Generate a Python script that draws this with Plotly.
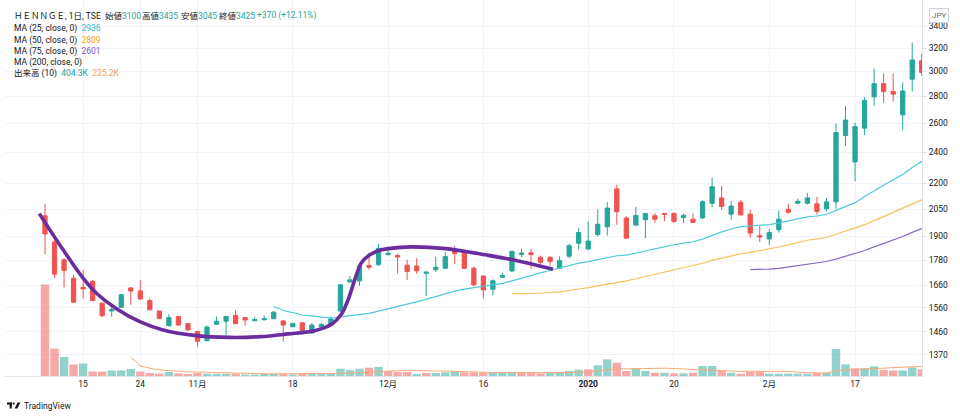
import math
import pandas as pd
import plotly.graph_objects as go

# ---------------- data ----------------
dates = [
    "2019-10-08", "2019-10-09", "2019-10-10", "2019-10-11", "2019-10-15", "2019-10-16", "2019-10-17", "2019-10-18",
    "2019-10-21", "2019-10-23", "2019-10-24", "2019-10-25", "2019-10-28", "2019-10-29", "2019-10-30", "2019-10-31",
    "2019-11-01", "2019-11-05", "2019-11-06", "2019-11-07", "2019-11-08", "2019-11-11", "2019-11-12", "2019-11-13",
    "2019-11-14", "2019-11-15", "2019-11-18", "2019-11-19", "2019-11-20", "2019-11-21", "2019-11-22", "2019-11-25",
    "2019-11-26", "2019-11-27", "2019-11-28", "2019-11-29",
    "2019-12-02", "2019-12-03", "2019-12-04", "2019-12-05", "2019-12-06", "2019-12-09", "2019-12-10", "2019-12-11",
    "2019-12-12", "2019-12-13", "2019-12-16", "2019-12-17", "2019-12-18", "2019-12-19", "2019-12-20", "2019-12-23",
    "2019-12-24", "2019-12-25", "2019-12-26", "2019-12-27", "2019-12-30",
    "2020-01-06", "2020-01-07", "2020-01-08", "2020-01-09", "2020-01-10", "2020-01-14", "2020-01-15", "2020-01-16",
    "2020-01-17", "2020-01-20", "2020-01-21", "2020-01-22", "2020-01-23", "2020-01-24", "2020-01-27", "2020-01-28",
    "2020-01-29", "2020-01-30", "2020-01-31",
    "2020-02-03", "2020-02-04", "2020-02-05", "2020-02-06", "2020-02-07", "2020-02-10", "2020-02-12", "2020-02-13",
    "2020-02-14", "2020-02-17", "2020-02-18", "2020-02-19", "2020-02-20", "2020-02-21", "2020-02-25", "2020-02-26",
    "2020-02-27",
]

opens = [2012, 1871, 1781, 1693, 1651, 1678, 1580, 1546, 1562, 1648, 1634, 1591, 1546, 1484, 1523, 1493,
         1460, 1424, 1490, 1503, 1527, 1518, 1505, 1509, 1513, 1504, 1480, 1496, 1455, 1480, 1485, 1546,
         1675, 1680, 1753, 1757,
         1807, 1803, 1755, 1751, 1716, 1733, 1740, 1828, 1816, 1740, 1703, 1642, 1697, 1727, 1807, 1816,
         1794, 1794, 1740, 1799, 1865,
         1835, 1910, 1952, 2167, 2000, 1961, 1990, 2012, 2025, 2025, 2002, 1993, 2000, 2082, 2114, 2021,
         2089, 2021, 1904,
         1887, 1936, 2048, 2083, 2083, 2080, 2051, 2091, 2512, 2335, 2564, 2796, 2900, 2837, 2660, 2936,
         3089]
highs = [2080, 1880, 1789, 1709, 1733, 1685, 1583, 1579, 1620, 1652, 1685, 1600, 1547, 1532, 1525, 1496,
         1463, 1485, 1523, 1525, 1549, 1518, 1520, 1527, 1546, 1508, 1496, 1500, 1496, 1496, 1522, 1665,
         1703, 1757, 1816, 1862,
         1848, 1812, 1781, 1789, 1722, 1797, 1820, 1851, 1830, 1749, 1705, 1687, 1718, 1828, 1838, 1835,
         1802, 1796, 1799, 1862, 1945,
         1982, 2048, 2089, 2192, 2009, 2061, 2025, 2027, 2025, 2031, 2025, 2025, 2101, 2236, 2185, 2097,
         2101, 2046, 1958,
         1939, 2041, 2080, 2110, 2142, 2120, 2114, 2596, 2726, 2603, 2794, 3023, 2983, 2983, 2910, 3248,
         3150]
lows = [1809, 1693, 1650, 1582, 1601, 1589, 1520, 1522, 1560, 1573, 1596, 1550, 1513, 1482, 1484, 1464,
        1400, 1422, 1490, 1444, 1490, 1485, 1503, 1506, 1512, 1420, 1479, 1464, 1452, 1465, 1480, 1542,
        1673, 1657, 1733, 1752,
        1803, 1714, 1685, 1714, 1611, 1722, 1737, 1761, 1737, 1654, 1601, 1614, 1694, 1722, 1795, 1737,
        1757, 1752, 1737, 1790, 1831,
        1831, 1900, 1905, 1963, 1887, 1954, 1891, 1972, 1981, 1972, 1972, 1972, 1993, 2061, 2046, 1990,
        2014, 1891, 1870,
        1856, 1921, 2025, 2077, 2075, 2018, 2036, 2052, 2442, 2214, 2515, 2726, 2751, 2758, 2553, 2837,
        2960]
closes = [1913, 1712, 1730, 1584, 1643, 1591, 1526, 1553, 1617, 1634, 1598, 1551, 1514, 1518, 1487, 1467,
          1422, 1479, 1503, 1523, 1493, 1508, 1510, 1513, 1541, 1487, 1493, 1465, 1487, 1489, 1513, 1662,
          1685, 1749, 1745, 1838,
          1814, 1795, 1725, 1728, 1722, 1745, 1797, 1812, 1740, 1662, 1639, 1681, 1706, 1823, 1815, 1807,
          1769, 1773, 1777, 1852, 1921,
          1876, 1965, 2055, 2034, 1891, 2013, 2025, 1993, 2020, 1981, 2014, 1976, 2092, 2180, 2065, 2067,
          2017, 1918, 1898,
          1921, 1993, 2031, 2094, 2114, 2036, 2091, 2533, 2622, 2575, 2769, 2900, 2837, 2817, 2842, 3096,
          2991]
volumes_k = [4575, 1375, 950, 575, 625, 225, 225, 275, 275, 350, 225, 150, 125, 200, 135, 100,
             150, 115, 115, 115, 115, 75, 75, 115, 115, 115, 75, 115, 100, 100, 100, 365,
             285, 365, 415, 450,
             235, 200, 200, 100, 150, 150, 185, 235, 185, 185, 165, 165, 165, 200, 165, 150,
             125, 150, 150, 250, 315,
             335, 535, 835, 665, 250, 385, 250, 165, 165, 135, 135, 165, 500, 500, 250, 165,
             115, 215, 215,
             115, 115, 115, 115, 115, 165, 165, 1350, 585, 385, 390, 475, 300, 275, 275, 425,
             335]

tick_dates = ["2019-10-15", "2019-10-24", "2019-11-01", "2019-11-18", "2019-12-02",
              "2019-12-16", "2020-01-06", "2020-01-20", "2020-02-03", "2020-02-17"]
tick_labels = ["15", "24", "11月", "18", "12月", "16", "<b>2020</b>", "20", "2月", "17"]
price_ticks = [1370, 1460, 1560, 1660, 1780, 1900, 2050, 2200, 2400, 2600, 2800, 3000, 3200, 3400]

# hand-drawn purple trend curve (position in trading days, price)
curve_pos = [-0.6, 1.9, 4.0, 5.4, 7.5, 10.0, 12.4, 15.9, 19.4, 22.6, 25.5, 28.3, 30.1, 31.1,
             31.8, 32.5, 33.2, 34.1, 35.3, 37.8, 39.5, 42.3, 46.2, 49.1, 53.3]
curve_price = [2024, 1831, 1693, 1624, 1556, 1500, 1467, 1444, 1437, 1440, 1451, 1464, 1491, 1532,
               1594, 1685, 1767, 1806, 1831, 1845, 1845, 1836, 1806, 1781, 1735]

legend_name = "ＨＥＮＮＧＥ, 1日, TSE"
legend_ohlc = [("始値", "3100"), ("高値", "3435"), ("安値", "3045"), ("終値", "3425")]
legend_change = "+370 (+12.11%)"
ma_lines = [("MA (25, close, 0)", "2936"), ("MA (50, close, 0)", "2809"),
            ("MA (75, close, 0)", "2601"), ("MA (200, close, 0)", "")]
vol_label = ("出来高 (10)", "404.3K", "225.2K")

# ---------------- styling ----------------
UP = "#26a69a"
DOWN = "#ef5350"
VOL_UP = "rgba(38,166,154,0.5)"
VOL_DOWN = "rgba(239,83,80,0.5)"
MA25_C = "#4fc9dc"
MA50_C = "#f7c15a"
MA75_C = "#8a68c9"
MA25_T = "#26bcd4"
MA50_T = "#f5a623"
MA75_T = "#7e57c2"
VMA_C = "#f8a978"
TXT = "#131722"
GRID = "#f0f3fa"
FONT = "Roboto, 'Noto Sans CJK JP', sans-serif"

W, H = 960, 418
ML, MR, MT, MB = 5, 38, 0, 42
PW, PH = W - ML - MR, H - MT - MB


def px(x, y):
    return (x - ML) / PW, 1 - (y - MT) / PH


pos = list(range(len(dates)))
cs = pd.Series(closes, dtype=float)
ma25 = cs.rolling(25).mean()
ma50 = cs.rolling(50).mean()
ma75 = cs.rolling(75).mean()
vma10 = pd.Series(volumes_k, dtype=float).rolling(10).mean()

vol_colors = []
for i in pos:
    ref = opens[0] if i == 0 else closes[i - 1]
    vol_colors.append(VOL_DOWN if closes[i] < ref else VOL_UP)

fig = go.Figure()

# volume (primary, hidden axis)
fig.add_trace(go.Bar(x=pos, y=volumes_k, marker=dict(color=vol_colors, line=dict(width=0)),
                     yaxis="y", hoverinfo="skip"))
fig.add_trace(go.Scatter(x=pos, y=vma10, mode="lines", line=dict(color=VMA_C, width=1),
                         yaxis="y", hoverinfo="skip"))

# price (overlay, log)
fig.add_trace(go.Candlestick(
    x=pos, open=opens, high=highs, low=lows, close=closes, yaxis="y2",
    increasing=dict(line=dict(color=UP, width=1), fillcolor=UP),
    decreasing=dict(line=dict(color=DOWN, width=1), fillcolor=DOWN),
    whiskerwidth=0, hoverinfo="skip"))
for s, c in ((ma25, MA25_C), (ma50, MA50_C), (ma75, MA75_C)):
    fig.add_trace(go.Scatter(x=pos, y=s, mode="lines", line=dict(color=c, width=1.2),
                             yaxis="y2", hoverinfo="skip"))
fig.add_trace(go.Scatter(x=curve_pos, y=curve_price, mode="lines",
                         line=dict(color="#6a2c9e", width=3.6, shape="spline", smoothing=0.9),
                         yaxis="y2", hoverinfo="skip"))

# axes ranges: x in trading-day units
x0 = (ML - 45) / 9.53
x1 = (ML + PW - 45) / 9.53
ytop, ybot = 3655, 1291.5

tickvals = [dates.index(d) for d in tick_dates]

fig.update_layout(
    width=W, height=H, margin=dict(l=ML, r=MR, t=MT, b=MB, pad=0),
    paper_bgcolor="white", plot_bgcolor="white", showlegend=False,
    font=dict(family=FONT, color=TXT, size=9),
    bargap=0.12, boxgap=0.36,
    xaxis=dict(range=[x0, x1], tickvals=tickvals, ticktext=tick_labels, showgrid=True,
               gridcolor=GRID, gridwidth=1, zeroline=False, showline=True, linecolor="#e0e3eb",
               ticks="", tickfont=dict(size=8.5, color=TXT), rangeslider=dict(visible=False),
               fixedrange=True),
    yaxis=dict(range=[0, PH * 50], visible=False, showgrid=False, zeroline=False, fixedrange=True),
    yaxis2=dict(overlaying="y", side="right", type="log",
                range=[math.log10(ybot), math.log10(ytop)],
                tickvals=price_ticks, ticktext=[str(v) for v in price_ticks],
                showgrid=True, gridcolor=GRID, gridwidth=1, zeroline=False,
                showline=True, linecolor="#e0e3eb", ticks="outside", ticklen=4,
                tickcolor="#e0e3eb", tickfont=dict(size=8.5, color=TXT), fixedrange=True),
)

ann = []


def text(x, y, t, color=TXT, size=8.5, **kw):
    xp, yp = px(x, y)
    d = dict(x=xp, y=yp, xref="paper", yref="paper", text=t, showarrow=False,
             xanchor="left", yanchor="middle", font=dict(size=size, color=color, family=FONT))
    d.update(kw)
    ann.append(d)


# top legend line 1
text(12, 16, legend_name)
ox = [103, 140, 179, 217]
for (lab, val), xx in zip(legend_ohlc, ox):
    text(xx, 16, f"{lab}<span style='color:{UP}'>{val}</span>")
text(255, 16, legend_change, color=UP)

ma_cols = [MA25_T, MA50_T, MA75_T, TXT]
ys = [28.3, 40, 51.7, 62.7]
for (lab, val), c, yy in zip(ma_lines, ma_cols, ys):
    t = lab if not val else f"{lab}&nbsp;&nbsp;<span style='color:{c}'>{val}</span>"
    text(12, yy, t)
text(12, 73.5, f"{vol_label[0]}&nbsp;&nbsp;<span style='color:{UP}'>{vol_label[1]}</span>"
               f"&nbsp;&nbsp;<span style='color:#f7a15e'>{vol_label[2]}</span>")

# JPY badge
xp, yp = px(939, 16)
ann.append(dict(x=xp, y=yp, xref="paper", yref="paper", text="JPY", showarrow=False,
                xanchor="center", yanchor="middle", font=dict(size=8, color="#6a6d78", family=FONT),
                bgcolor="white", bordercolor="#d1d4dc", borderwidth=1, borderpad=2))

# TradingView branding
text(22, 406, "TradingView", size=8.5)
fig.update_layout(annotations=ann)

shapes = []


def rect(xa, ya, xb, yb):
    a = px(xa, ya)
    b = px(xb, yb)
    shapes.append(dict(type="rect", xref="paper", yref="paper", x0=a[0], y0=a[1], x1=b[0], y1=b[1],
                       fillcolor=TXT, line=dict(width=0)))


rect(7, 402.5, 11.8, 404.6)
rect(9.6, 402.5, 11.8, 408.5)
c0 = px(12.6, 402.4)
c1 = px(14.8, 404.6)
shapes.append(dict(type="circle", xref="paper", yref="paper", x0=c0[0], y0=c0[1], x1=c1[0], y1=c1[1],
                   fillcolor=TXT, line=dict(width=0)))
pts = [px(14.6, 408.5), px(17.6, 402.5), px(20.4, 402.5), px(17.4, 408.5)]
path = "M " + " L ".join(f"{a},{b}" for a, b in pts) + " Z"
shapes.append(dict(type="path", xref="paper", yref="paper", path=path, fillcolor=TXT, line=dict(width=0)))
fig.update_layout(shapes=shapes)

fig.write_html("out.html", config={"displayModeBar": False},
               post_script="document.body.style.margin='0';document.body.style.overflow='hidden';")
